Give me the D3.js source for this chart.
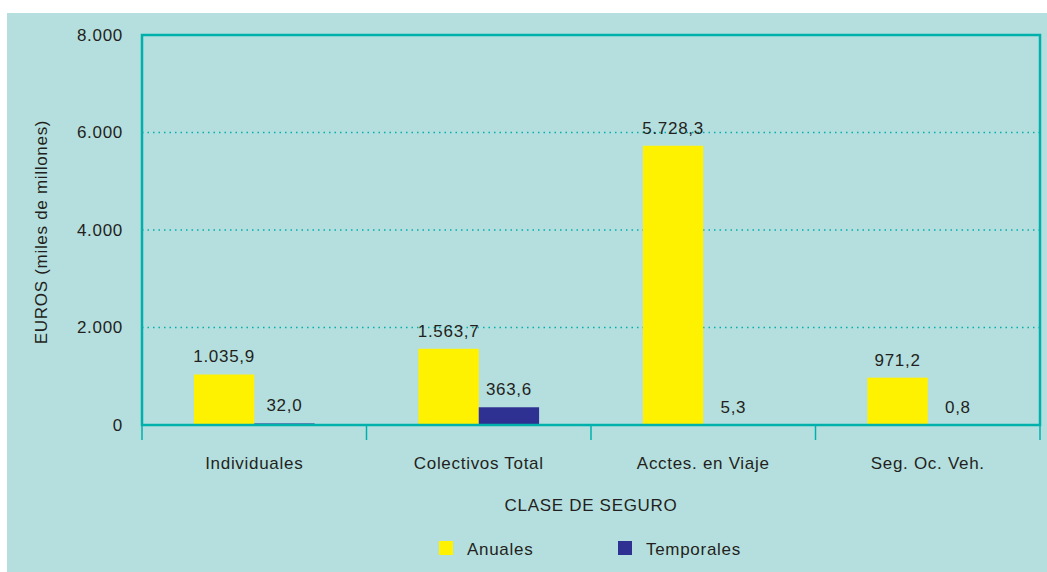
<!DOCTYPE html>
<html>
<head>
<meta charset="utf-8">
<script src="https://cdn.jsdelivr.net/npm/d3@7"></script>
<style>
  body { margin: 0; background: #fff; }
  svg { display: block; font-family: "Liberation Sans", Arial, sans-serif; }
  svg text { letter-spacing: 0.7px; }
</style>
</head>
<body>
<svg id="chart" width="1047" height="572"></svg>
<script>
const categories = ["Individuales", "Colectivos Total", "Acctes. en Viaje", "Seg. Oc. Veh."];
const anuales = [1035.9, 1563.7, 5728.3, 971.2];
const temporales = [32.0, 363.6, 5.3, 0.8];
const yTicks = [0, 2000, 4000, 6000, 8000];
const seriesNames = ["Anuales", "Temporales"];

const colors = { Anuales: "#fff200", Temporales: "#2e3192" };
const teal = "#00b0aa";
const textColor = "#231f20";
const fontSize = 17;

const svg = d3.select("#chart");
const margin = { top: 35, right: 7, bottom: 147, left: 142 };
const width = 1047 - margin.left - margin.right;
const height = 572 - margin.top - margin.bottom;

// background panel
svg.append("rect")
    .attr("x", 7).attr("y", 13)
    .attr("width", 1040).attr("height", 559)
    .attr("fill", "#b5dfdf");

const g = svg.append("g").attr("transform", `translate(${margin.left},${margin.top})`);

const x = d3.scaleBand().domain(categories).range([0, width]);
const xs = d3.scaleBand().domain(seriesNames).range([0, x.bandwidth()]).paddingInner(0).paddingOuter(0.86);
const y = d3.scaleLinear().domain([0, 8000]).range([height, 0]);

const fmt = v => d3.format(",.0f")(v).replace(/,/g, ".");
const fmtVal = v => {
    const parts = v.toFixed(1).split(".");
    return d3.format(",")(+parts[0]).replace(/,/g, ".") + "," + parts[1];
};

// dotted gridlines
g.selectAll(".grid")
    .data(yTicks.filter(d => d > 0 && d < 8000))
    .enter().append("line")
    .attr("x1", 0).attr("x2", width)
    .attr("y1", d => y(d)).attr("y2", d => y(d))
    .attr("stroke", teal)
    .attr("stroke-width", 1.5)
    .attr("stroke-dasharray", "1.5,4");

// y tick labels
g.selectAll(".ylab")
    .data(yTicks)
    .enter().append("text")
    .attr("x", -19)
    .attr("y", d => y(d))
    .attr("dy", "0.35em")
    .attr("text-anchor", "end")
    .attr("font-size", fontSize)
    .attr("fill", textColor)
    .text(fmt);

// bars
const data = categories.map((c, i) => ({ cat: c, values: [
    { name: "Anuales", value: anuales[i] },
    { name: "Temporales", value: temporales[i] }
]}));

const groups = g.selectAll(".cat")
    .data(data)
    .enter().append("g")
    .attr("transform", d => `translate(${x(d.cat)},0)`);

groups.selectAll("rect")
    .data(d => d.values)
    .enter().append("rect")
    .attr("x", d => xs(d.name))
    .attr("width", xs.bandwidth())
    .attr("y", d => y(d.value))
    .attr("height", d => height - y(d.value))
    .attr("fill", d => colors[d.name]);

groups.selectAll(".val")
    .data(d => d.values)
    .enter().append("text")
    .attr("x", d => xs(d.name) + xs.bandwidth() / 2)
    .attr("y", d => y(d.value) - 12)
    .attr("text-anchor", "middle")
    .attr("font-size", fontSize)
    .attr("fill", textColor)
    .text(d => fmtVal(d.value));

// frame
g.append("rect")
    .attr("x", 0).attr("y", 0)
    .attr("width", width).attr("height", height)
    .attr("fill", "none")
    .attr("stroke", teal)
    .attr("stroke-width", 2.5);

// x axis ticks (band boundaries)
const bounds = categories.map(c => x(c)).concat([width]);
g.selectAll(".xtick")
    .data(bounds)
    .enter().append("line")
    .attr("x1", d => d).attr("x2", d => d)
    .attr("y1", height).attr("y2", height + 15)
    .attr("stroke", teal)
    .attr("stroke-width", 1.5);

// category labels
g.selectAll(".xlab")
    .data(categories)
    .enter().append("text")
    .attr("x", d => x(d) + x.bandwidth() / 2)
    .attr("y", height + 44)
    .attr("text-anchor", "middle")
    .attr("font-size", fontSize)
    .attr("fill", textColor)
    .text(d => d);

// axis titles
g.append("text")
    .attr("x", width / 2)
    .attr("y", height + 86)
    .attr("text-anchor", "middle")
    .attr("font-size", fontSize)
    .attr("fill", textColor)
    .text("CLASE DE SEGURO");

svg.append("text")
    .attr("transform", "translate(47,232) rotate(-90)")
    .attr("text-anchor", "middle")
    .attr("font-size", fontSize)
    .attr("fill", textColor)
    .text("EUROS (miles de millones)");

// legend
const legendX = [439, 618];
const legend = svg.selectAll(".leg")
    .data(seriesNames)
    .enter().append("g")
    .attr("transform", (d, i) => `translate(${legendX[i]},541)`);

legend.append("rect")
    .attr("width", 14).attr("height", 14)
    .attr("fill", d => colors[d]);

legend.append("text")
    .attr("x", 28)
    .attr("y", 14)
    .attr("font-size", fontSize)
    .attr("fill", textColor)
    .text(d => d);
</script>
</body>
</html>
